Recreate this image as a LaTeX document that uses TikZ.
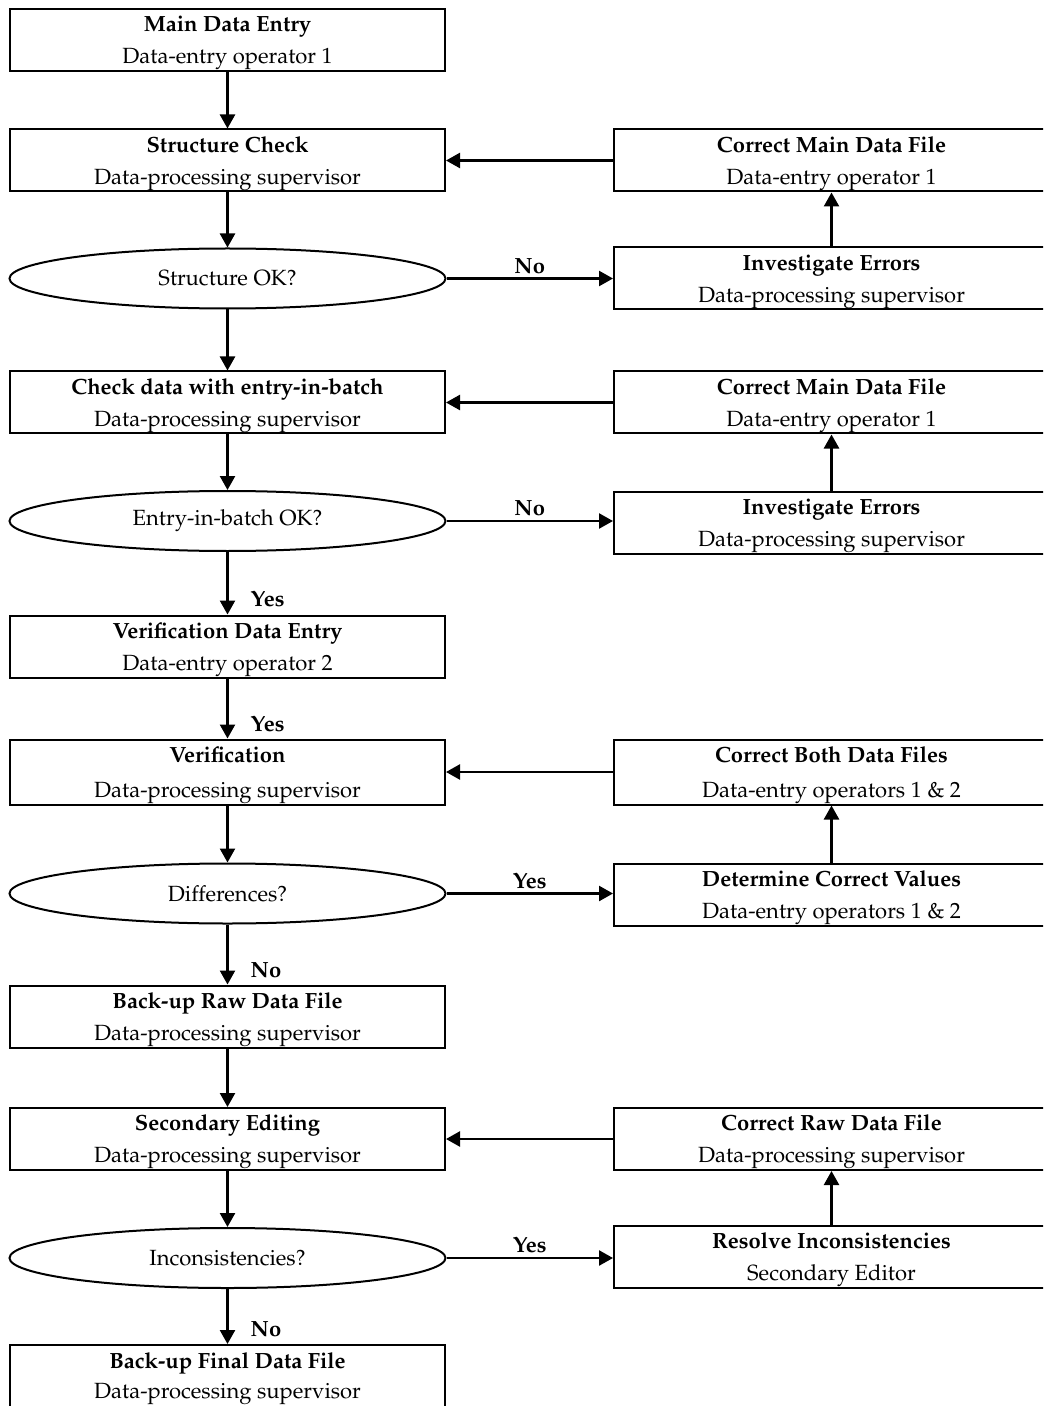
\documentclass[tikz,border=0pt]{standalone}
\usepackage[T1]{fontenc}
\usepackage{mathpazo}
\usetikzlibrary{positioning, arrows.meta, shapes.geometric}

\begin{document}
\begin{tikzpicture}[x=0.5pt, y=-0.5pt,
    box/.style={draw, line width=1pt, fill=white, minimum width=217.5pt, minimum height=31pt, inner sep=0pt, text depth=0pt, align=center, font=\fontsize{11}{16}\selectfont},
    tallbox/.style={box, minimum height=32.5pt, font=\fontsize{11}{17.5}\selectfont},
    decision/.style={ellipse, draw, line width=1pt, fill=white, minimum width=218pt, minimum height=30pt, inner sep=0pt, font=\fontsize{11}{13}\selectfont},
    flow/.style={-{Triangle[length=7pt, width=7.5pt]}, line width=1.2pt},
    lbl/.style={font=\fontsize{11}{13}\selectfont\bfseries, inner sep=2pt}
]
\useasboundingbox (0,0) rectangle (1043,1406);
\clip (0,0) rectangle (1043,1406);

% Colonna principale
\node[box] (mainentry) at (227.5,40) {\textbf{Main Data Entry}\\Data-entry operator 1};
\node[box] (structcheck) at (227.5,160.5) {\textbf{Structure Check}\\Data-processing supervisor};
\node[decision] (structok) at (227.5,278.5) {Structure OK?};
\node[box] (batchcheck) at (227.5,402.5) {\textbf{Check data with entry-in-batch}\\Data-processing supervisor};
\node[decision] (batchok) at (227.5,521) {Entry-in-batch OK?};
\node[box] (verentry) at (227.5,646.5) {\textbf{Verification Data Entry}\\Data-entry operator 2};
\node[tallbox] (verif) at (227.5,772) {\textbf{Verification}\\Data-processing supervisor};
\node[decision] (diffs) at (227.5,893.5) {Differences?};
\node[box] (backupraw) at (227.5,1016.5) {\textbf{Back-up Raw Data File}\\Data-processing supervisor};
\node[box] (secedit) at (227.5,1139) {\textbf{Secondary Editing}\\Data-processing supervisor};
\node[decision] (incons) at (227.5,1258) {Inconsistencies?};
\node[box, font=\fontsize{11}{15}\selectfont] (backupfinal) at (227.5,1376) {\textbf{Back-up Final Data File}\\Data-processing supervisor};

% Colonna delle correzioni
\node[box] (corrmain1) at (831.5,160.5) {\textbf{Correct Main Data File}\\Data-entry operator 1};
\node[box] (invest1) at (831.5,278.5) {\textbf{Investigate Errors}\\Data-processing supervisor};
\node[box] (corrmain2) at (831.5,402.5) {\textbf{Correct Main Data File}\\Data-entry operator 1};
\node[box] (invest2) at (831.5,522.5) {\textbf{Investigate Errors}\\Data-processing supervisor};
\node[tallbox] (corrboth) at (831.5,772) {\textbf{Correct Both Data Files}\\Data-entry operators 1 \& 2};
\node[box] (determine) at (831.5,894.5) {\textbf{Determine Correct Values}\\Data-entry operators 1 \& 2};
\node[box] (corrraw) at (831.5,1139) {\textbf{Correct Raw Data File}\\Data-processing supervisor};
\node[box] (resolve) at (831.5,1257) {\textbf{Resolve Inconsistencies}\\Secondary Editor};

% Frecce verticali
\draw[flow] (mainentry) -- (structcheck);
\draw[flow] (structcheck) -- (structok);
\draw[flow] (structok) -- (batchcheck);
\draw[flow] (batchcheck) -- (batchok);
\draw[flow] (batchok) -- node[lbl, pos=0.75, anchor=west, xshift=9pt] {Yes} (verentry);
\draw[flow] (verentry) -- node[lbl, pos=0.75, anchor=west, xshift=9pt] {Yes} (verif);
\draw[flow] (verif) -- (diffs);
\draw[flow] (diffs) -- node[lbl, pos=0.76, anchor=west, xshift=9pt] {No} (backupraw);
\draw[flow] (backupraw) -- (secedit);
\draw[flow] (secedit) -- (incons);
\draw[flow] (incons) -- node[lbl, pos=0.74, anchor=west, xshift=9pt] {No} (backupfinal);

% Rami laterali
\draw[flow] (structok.east) -- node[lbl, above] {No} (invest1.west);
\draw[flow] (invest1) -- (corrmain1);
\draw[flow] (corrmain1.west) -- (structcheck.east);
\draw[flow] (batchok.east) -- node[lbl, above] {No} (invest2.west |- batchok.east);
\draw[flow] (invest2) -- (corrmain2);
\draw[flow] (corrmain2.west) -- (batchcheck.east);
\draw[flow] (diffs.east) -- node[lbl, above] {Yes} (determine.west |- diffs.east);
\draw[flow] (determine) -- (corrboth);
\draw[flow] (corrboth.west) -- (verif.east);
\draw[flow] (incons.east) -- node[lbl, above] {Yes} (resolve.west |- incons.east);
\draw[flow] (resolve) -- (corrraw);
\draw[flow] (corrraw.west) -- (secedit.east);

\end{tikzpicture}
\end{document}
